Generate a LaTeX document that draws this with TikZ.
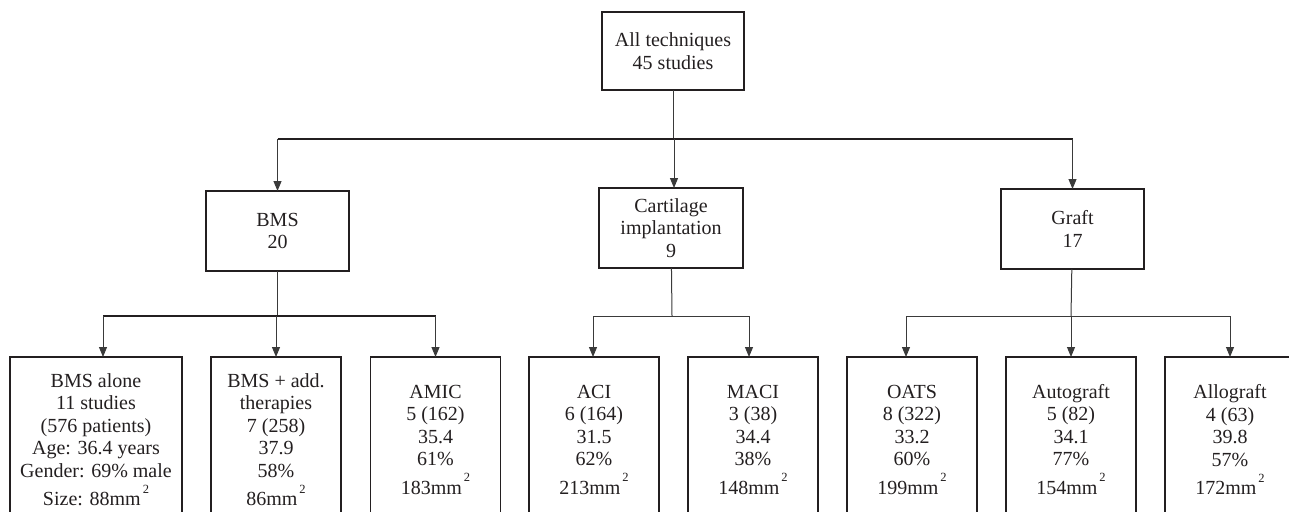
\documentclass[tikz,border=0pt]{standalone}
\usepackage{fontspec}
\setmainfont{Liberation Serif}
\usetikzlibrary{arrows.meta}
\definecolor{flowInk}{HTML}{231F20}
\definecolor{flowLine}{HTML}{3A3A3A}
\tikzset{
  flow diagram/.style={
    draw=flowLine, line width=1pt,
    >={Triangle[length=10pt,width=8pt]},
    every node/.style={font=\fontsize{20}{22.5}\selectfont,
      text=flowInk, align=center, inner sep=0pt, outer sep=0pt}
  },
  flow box/.style={draw=flowInk, line width=1.3pt,
    minimum width=143pt, minimum height=80pt},
  flow leaf/.style={draw=flowInk, line width=1.3pt,
    minimum width=130pt, minimum height=165pt},
  flow bus/.style={draw=flowInk, line width=2pt}
}
\newcommand{\sqmm}{mm\kern2pt\raisebox{12.5pt}{\fontsize{12.5}{12.5}\selectfont 2}}

\begin{document}
\begin{tikzpicture}[flow diagram,x=1pt,y=-1pt]
    \clip (0,0) rectangle (1289,511);
    \useasboundingbox (0,0) rectangle (1289,511);
    % top level
    \node[flow box,minimum width=142pt,minimum height=78pt] (all) at (673,51)
      {All techniques\\45 studies};
    \node[flow box] (bms) at (277.5,231) {BMS\\20};
    \node[flow box,minimum width=144pt] (cart) at (671,228)
      {Cartilage\\implantation\\9};
    \node[flow box] (graft) at (1072.5,229) {Graft\\17};
    \coordinate (topBus) at (673,139);
    \draw (all) -- (topBus);
    \draw[flow bus] (bms.north |- topBus) -- (graft.north |- topBus);
    \draw[->] (bms.north |- topBus) -- (bms.north);
    \draw[->] ([xshift=3pt]cart.north |- topBus) -- ([xshift=3pt]cart.north);
    \draw[->] (graft.north |- topBus) -- (graft.north);
    % leaves
    \node[flow leaf,minimum width=172pt] (alone) at (96,439.5)
      {BMS alone\\11 studies\\(576 patients)\\Age: 36.4 years\\Gender: 69\% male\\[6pt]Size: 88\sqmm};
    \node[flow leaf] (plus) at (276,439.5)
      {BMS + add.\\therapies\\7 (258)\\37.9\\58\%\\[6pt]86\sqmm};
    \node[flow leaf] (amic) at (435.5,439.5)
      {AMIC\\5 (162)\\35.4\\61\%\\[6pt]183\sqmm};
    \node[flow leaf] (aci) at (594,439.5)
      {ACI\\6 (164)\\31.5\\62\%\\[6pt]213\sqmm};
    \node[flow leaf] (maci) at (753,439.5)
      {MACI\\3 (38)\\34.4\\38\%\\[6pt]148\sqmm};
    \node[flow leaf] (oats) at (912,439.5)
      {OATS\\8 (322)\\33.2\\60\%\\[6pt]199\sqmm};
    \node[flow leaf] (auto) at (1071,439.5)
      {Autograft\\5 (82)\\34.1\\77\%\\[6pt]154\sqmm};
    \node[flow leaf] (allo) at (1230,439.5)
      {Allograft\\4 (63)\\39.8\\57\%\\[6pt]172\sqmm};
    % BMS branch
    \coordinate (bmsBus) at (277.5,316);
    \draw (bms) -- (bmsBus);
    \draw[flow bus] ([xshift=7pt]alone.north |- bmsBus) -- (amic.north |- bmsBus);
    \draw[->] ([xshift=7pt]alone.north |- bmsBus) -- ([xshift=7pt]alone.north);
    \draw[->] (plus.north |- bmsBus) -- (plus.north);
    \draw[->] (amic.north |- bmsBus) -- (amic.north);
    % cartilage branch
    \coordinate (cartBus) at (672,316);
    \draw (cart) -- (cartBus);
    \draw ([xshift=-1pt]aci.north |- cartBus) -- ([xshift=-4pt]maci.north |- cartBus);
    \draw[->] ([xshift=-1pt]aci.north |- cartBus) -- ([xshift=-1pt]aci.north);
    \draw[->] ([xshift=-4pt]maci.north |- cartBus) -- ([xshift=-4pt]maci.north);
    % graft branch
    \coordinate (graftBus) at (1071,316);
    \draw (graft) -- (graftBus);
    \draw ([xshift=-6pt]oats.north |- graftBus) -- (allo.north |- graftBus);
    \draw[->] ([xshift=-6pt]oats.north |- graftBus) -- ([xshift=-6pt]oats.north);
    \draw[->] (auto.north |- graftBus) -- (auto.north);
    \draw[->] (allo.north |- graftBus) -- (allo.north);
\end{tikzpicture}
\end{document}
